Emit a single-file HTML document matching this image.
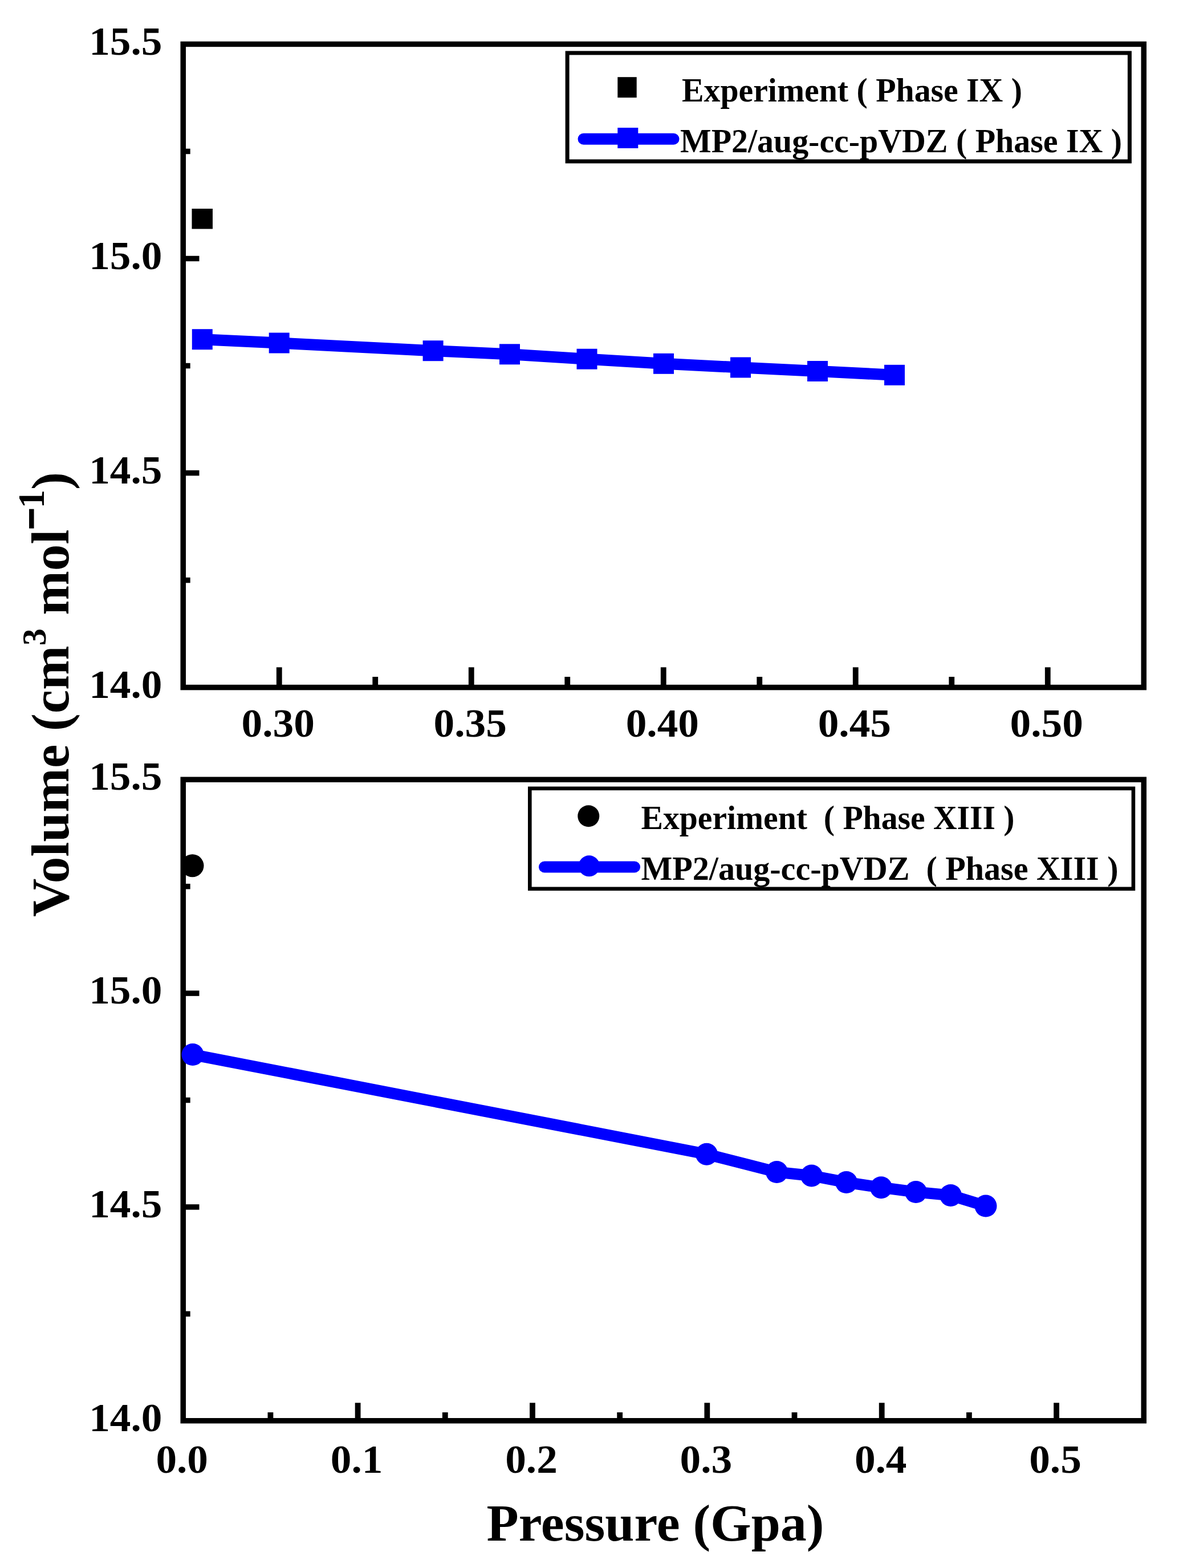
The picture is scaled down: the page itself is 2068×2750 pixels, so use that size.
<!DOCTYPE html>
<html><head><meta charset="utf-8"><title>Volume vs Pressure</title>
<style>html,body{margin:0;padding:0;background:#fff;}body{width:2068px;height:2750px;overflow:hidden;}svg{display:block;}</style>
</head><body>
<svg width="2068" height="2750" viewBox="0 0 2068 2750">
<rect width="2068" height="2750" fill="#fff"/>
<rect x="321.25" y="77.45" width="1685.0" height="1128.1499999999999" fill="none" stroke="#000" stroke-width="9.5"/>
<line x1="321.25" y1="453.50" x2="349.5" y2="453.50" stroke="#000" stroke-width="9.5"/>
<line x1="321.25" y1="829.55" x2="349.5" y2="829.55" stroke="#000" stroke-width="9.5"/>
<line x1="321.25" y1="265.47" x2="333.7" y2="265.47" stroke="#000" stroke-width="9.5"/>
<line x1="321.25" y1="641.52" x2="333.7" y2="641.52" stroke="#000" stroke-width="9.5"/>
<line x1="321.25" y1="1017.57" x2="333.7" y2="1017.57" stroke="#000" stroke-width="9.5"/>
<line x1="489.75" y1="1205.6" x2="489.75" y2="1170.3" stroke="#000" stroke-width="9.8"/>
<line x1="826.75" y1="1205.6" x2="826.75" y2="1170.3" stroke="#000" stroke-width="9.8"/>
<line x1="1163.75" y1="1205.6" x2="1163.75" y2="1170.3" stroke="#000" stroke-width="9.8"/>
<line x1="1500.75" y1="1205.6" x2="1500.75" y2="1170.3" stroke="#000" stroke-width="9.8"/>
<line x1="1837.75" y1="1205.6" x2="1837.75" y2="1170.3" stroke="#000" stroke-width="9.8"/>
<line x1="658.25" y1="1205.6" x2="658.25" y2="1187" stroke="#000" stroke-width="9.8"/>
<line x1="995.25" y1="1205.6" x2="995.25" y2="1187" stroke="#000" stroke-width="9.8"/>
<line x1="1332.25" y1="1205.6" x2="1332.25" y2="1187" stroke="#000" stroke-width="9.8"/>
<line x1="1669.25" y1="1205.6" x2="1669.25" y2="1187" stroke="#000" stroke-width="9.8"/>
<text transform="translate(284.5,95.5) scale(1.04,1)" text-anchor="end" style="font-family:'Liberation Serif', 'Times New Roman', serif;font-weight:bold;font-size:70.5px">15.5</text>
<text transform="translate(284.5,471.5) scale(1.04,1)" text-anchor="end" style="font-family:'Liberation Serif', 'Times New Roman', serif;font-weight:bold;font-size:70.5px">15.0</text>
<text transform="translate(284.5,847.5) scale(1.04,1)" text-anchor="end" style="font-family:'Liberation Serif', 'Times New Roman', serif;font-weight:bold;font-size:70.5px">14.5</text>
<text transform="translate(284.5,1223.6) scale(1.04,1)" text-anchor="end" style="font-family:'Liberation Serif', 'Times New Roman', serif;font-weight:bold;font-size:70.5px">14.0</text>
<text transform="translate(487.7,1292) scale(1.04,1)" text-anchor="middle" style="font-family:'Liberation Serif', 'Times New Roman', serif;font-weight:bold;font-size:70.5px">0.30</text>
<text transform="translate(824.7,1292) scale(1.04,1)" text-anchor="middle" style="font-family:'Liberation Serif', 'Times New Roman', serif;font-weight:bold;font-size:70.5px">0.35</text>
<text transform="translate(1161.8,1292) scale(1.04,1)" text-anchor="middle" style="font-family:'Liberation Serif', 'Times New Roman', serif;font-weight:bold;font-size:70.5px">0.40</text>
<text transform="translate(1498.8,1292) scale(1.04,1)" text-anchor="middle" style="font-family:'Liberation Serif', 'Times New Roman', serif;font-weight:bold;font-size:70.5px">0.45</text>
<text transform="translate(1835.7,1292) scale(1.04,1)" text-anchor="middle" style="font-family:'Liberation Serif', 'Times New Roman', serif;font-weight:bold;font-size:70.5px">0.50</text>
<polyline points="354.8,595.2 489.7,601.5 759.6,615.2 894.0,621.3 1029.5,629.7 1164.0,637.8 1299.0,644.5 1434.0,651.0 1569.0,657.8" fill="none" stroke="#00f" stroke-width="20" stroke-linejoin="round"/>
<rect x="336.8" y="577.2" width="36" height="36" fill="#00f"/>
<rect x="471.7" y="583.5" width="36" height="36" fill="#00f"/>
<rect x="741.6" y="597.2" width="36" height="36" fill="#00f"/>
<rect x="876.0" y="603.3" width="36" height="36" fill="#00f"/>
<rect x="1011.5" y="611.7" width="36" height="36" fill="#00f"/>
<rect x="1146.0" y="619.8" width="36" height="36" fill="#00f"/>
<rect x="1281.0" y="626.5" width="36" height="36" fill="#00f"/>
<rect x="1416.0" y="633.0" width="36" height="36" fill="#00f"/>
<rect x="1551.0" y="639.8" width="36" height="36" fill="#00f"/>
<rect x="336.5" y="366" width="36.5" height="35.5" fill="#000"/>
<rect x="995.1" y="92.9" width="986.3" height="190.1" fill="none" stroke="#000" stroke-width="7"/>
<rect x="1083.3" y="135.2" width="33.4" height="36" fill="#000"/>
<line x1="1023.5" y1="243.7" x2="1181.5" y2="243.7" stroke="#00f" stroke-width="20" stroke-linecap="round"/>
<rect x="1083.3" y="224" width="36" height="36" fill="#00f"/>
<text x="1196" y="177.8" style="font-family:'Liberation Serif', 'Times New Roman', serif;font-weight:bold;font-size:59px;" textLength="597" lengthAdjust="spacingAndGlyphs">Experiment ( Phase IX )</text>
<text x="1193" y="266.5" style="font-family:'Liberation Serif', 'Times New Roman', serif;font-weight:bold;font-size:59px;" textLength="775" lengthAdjust="spacingAndGlyphs">MP2/aug-cc-pVDZ ( Phase IX )</text>
<rect x="321.25" y="1367.25" width="1685.0" height="1124.5" fill="none" stroke="#000" stroke-width="9.5"/>
<line x1="321.25" y1="1742.08" x2="349.5" y2="1742.08" stroke="#000" stroke-width="9.5"/>
<line x1="321.25" y1="2116.92" x2="349.5" y2="2116.92" stroke="#000" stroke-width="9.5"/>
<line x1="321.25" y1="1554.67" x2="333.7" y2="1554.67" stroke="#000" stroke-width="9.5"/>
<line x1="321.25" y1="1929.50" x2="333.7" y2="1929.50" stroke="#000" stroke-width="9.5"/>
<line x1="321.25" y1="2304.33" x2="333.7" y2="2304.33" stroke="#000" stroke-width="9.5"/>
<line x1="627.61" y1="2491.75" x2="627.61" y2="2460.3" stroke="#000" stroke-width="9.8"/>
<line x1="933.97" y1="2491.75" x2="933.97" y2="2460.3" stroke="#000" stroke-width="9.8"/>
<line x1="1240.33" y1="2491.75" x2="1240.33" y2="2460.3" stroke="#000" stroke-width="9.8"/>
<line x1="1546.69" y1="2491.75" x2="1546.69" y2="2460.3" stroke="#000" stroke-width="9.8"/>
<line x1="1853.05" y1="2491.75" x2="1853.05" y2="2460.3" stroke="#000" stroke-width="9.8"/>
<line x1="474.43" y1="2491.75" x2="474.43" y2="2477" stroke="#000" stroke-width="9.8"/>
<line x1="780.79" y1="2491.75" x2="780.79" y2="2477" stroke="#000" stroke-width="9.8"/>
<line x1="1087.15" y1="2491.75" x2="1087.15" y2="2477" stroke="#000" stroke-width="9.8"/>
<line x1="1393.51" y1="2491.75" x2="1393.51" y2="2477" stroke="#000" stroke-width="9.8"/>
<line x1="1699.87" y1="2491.75" x2="1699.87" y2="2477" stroke="#000" stroke-width="9.8"/>
<text transform="translate(284.5,1385.2) scale(1.04,1)" text-anchor="end" style="font-family:'Liberation Serif', 'Times New Roman', serif;font-weight:bold;font-size:70.5px">15.5</text>
<text transform="translate(284.5,1760.1) scale(1.04,1)" text-anchor="end" style="font-family:'Liberation Serif', 'Times New Roman', serif;font-weight:bold;font-size:70.5px">15.0</text>
<text transform="translate(284.5,2134.9) scale(1.04,1)" text-anchor="end" style="font-family:'Liberation Serif', 'Times New Roman', serif;font-weight:bold;font-size:70.5px">14.5</text>
<text transform="translate(284.5,2509.8) scale(1.04,1)" text-anchor="end" style="font-family:'Liberation Serif', 'Times New Roman', serif;font-weight:bold;font-size:70.5px">14.0</text>
<text transform="translate(319.2,2582.5) scale(1.04,1)" text-anchor="middle" style="font-family:'Liberation Serif', 'Times New Roman', serif;font-weight:bold;font-size:70.5px">0.0</text>
<text transform="translate(625.6,2582.5) scale(1.04,1)" text-anchor="middle" style="font-family:'Liberation Serif', 'Times New Roman', serif;font-weight:bold;font-size:70.5px">0.1</text>
<text transform="translate(932.0,2582.5) scale(1.04,1)" text-anchor="middle" style="font-family:'Liberation Serif', 'Times New Roman', serif;font-weight:bold;font-size:70.5px">0.2</text>
<text transform="translate(1238.3,2582.5) scale(1.04,1)" text-anchor="middle" style="font-family:'Liberation Serif', 'Times New Roman', serif;font-weight:bold;font-size:70.5px">0.3</text>
<text transform="translate(1544.7,2582.5) scale(1.04,1)" text-anchor="middle" style="font-family:'Liberation Serif', 'Times New Roman', serif;font-weight:bold;font-size:70.5px">0.4</text>
<text transform="translate(1851.0,2582.5) scale(1.04,1)" text-anchor="middle" style="font-family:'Liberation Serif', 'Times New Roman', serif;font-weight:bold;font-size:70.5px">0.5</text>
<polyline points="338.0,1849.6 1239.5,2024.2 1362.5,2055.6 1423.5,2062.0 1484.5,2073.6 1545.5,2082.7 1606.5,2090.6 1667.5,2096.4 1729.0,2115.1" fill="none" stroke="#00f" stroke-width="20" stroke-linejoin="round"/>
<circle cx="338.0" cy="1849.6" r="19.5" fill="#00f"/>
<circle cx="1239.5" cy="2024.2" r="19.5" fill="#00f"/>
<circle cx="1362.5" cy="2055.6" r="19.5" fill="#00f"/>
<circle cx="1423.5" cy="2062.0" r="19.5" fill="#00f"/>
<circle cx="1484.5" cy="2073.6" r="19.5" fill="#00f"/>
<circle cx="1545.5" cy="2082.7" r="19.5" fill="#00f"/>
<circle cx="1606.5" cy="2090.6" r="19.5" fill="#00f"/>
<circle cx="1667.5" cy="2096.4" r="19.5" fill="#00f"/>
<circle cx="1729.0" cy="2115.1" r="19.5" fill="#00f"/>
<circle cx="337.5" cy="1518.3" r="20" fill="#000"/>
<rect x="929.3" y="1382.8" width="1058.6" height="176" fill="none" stroke="#000" stroke-width="6.6"/>
<circle cx="1032.3" cy="1431.2" r="19" fill="#000"/>
<line x1="955" y1="1520.5" x2="1113" y2="1520.5" stroke="#00f" stroke-width="20" stroke-linecap="round"/>
<circle cx="1033.3" cy="1518.8" r="18.5" fill="#00f"/>
<text x="1124.5" y="1453.8" style="font-family:'Liberation Serif', 'Times New Roman', serif;font-weight:bold;font-size:59px;" xml:space="preserve" textLength="655" lengthAdjust="spacingAndGlyphs">Experiment  ( Phase XIII )</text>
<text x="1124.5" y="1542.5" style="font-family:'Liberation Serif', 'Times New Roman', serif;font-weight:bold;font-size:59px;" xml:space="preserve" textLength="837" lengthAdjust="spacingAndGlyphs">MP2/aug-cc-pVDZ  ( Phase XIII )</text>
<text x="1149.5" y="2701.5" text-anchor="middle" style="font-family:'Liberation Serif', 'Times New Roman', serif;font-weight:bold;font-size:92px">Pressure (Gpa)</text>
<text transform="translate(120,1218) rotate(-90)" text-anchor="middle" style="font-family:'Liberation Serif', 'Times New Roman', serif;font-weight:bold;font-size:93.3px">Volume (cm<tspan font-size="60" dy="-40">3</tspan><tspan dy="40"> mol</tspan><tspan font-size="65" dy="-43" stroke="#000" stroke-width="4">&#8722;</tspan><tspan font-size="65">1</tspan><tspan dy="43">)</tspan></text>
</svg>
</body></html>
